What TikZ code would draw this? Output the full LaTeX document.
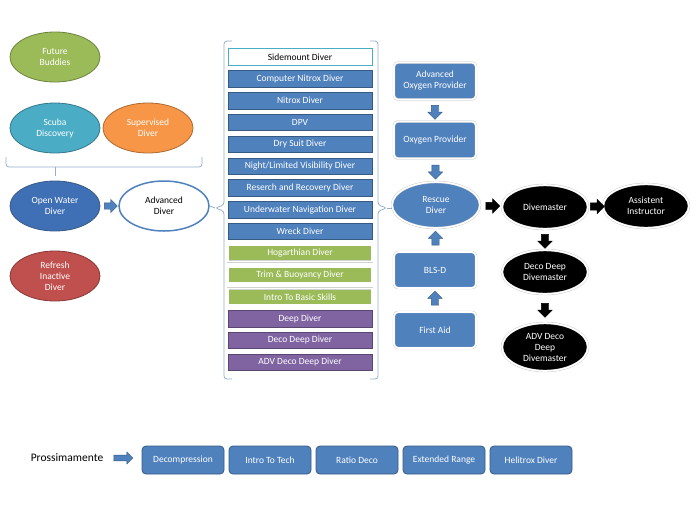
\documentclass[tikz,border=0pt]{standalone}
\usepackage{fontspec}
\setmainfont{Carlito}
\usetikzlibrary{shapes.geometric, shapes.arrows, positioning, calc}

\definecolor{diveblue}{HTML}{4F81BD}
\definecolor{deepblue}{HTML}{3F6FB4}
\definecolor{diveteal}{HTML}{4BACC6}
\definecolor{divegreen}{HTML}{9BBB59}
\definecolor{diveorange}{HTML}{F79646}
\definecolor{divered}{HTML}{C0504D}
\definecolor{divepurple}{HTML}{8064A2}
\definecolor{bracketgray}{HTML}{95AECF}

\begin{document}
\begin{tikzpicture}[
		x=1pt, y=-1pt,
		font=\fontsize{9.5}{11}\selectfont,
		oval/.style={ellipse, minimum width=90pt, minimum height=50pt, inner sep=0pt, thick, align=center, text=white},
		blackoval/.style={oval, minimum width=86pt, minimum height=44pt, fill=black, draw=gray!45, double=white, double distance=1.6pt, line width=0.4pt},
		course/.style={rectangle, minimum width=144pt, minimum height=16.5pt, inner sep=0pt, outer sep=0pt, fill=diveblue, draw=diveblue!70!black, text=white},
		greencourse/.style={course, fill=divegreen, draw=gray!35, double=white, double distance=1.6pt, line width=0.4pt},
		purplecourse/.style={course, fill=divepurple, draw=divepurple!70!black},
		firstaid/.style={rectangle, rounded corners=4pt, minimum width=82pt, minimum height=37pt, inner sep=0pt, align=center, fill=diveblue, draw=gray!45, double=white, double distance=1.6pt, line width=0.4pt, text=white},
		soon/.style={rectangle, rounded corners=4pt, minimum width=82pt, minimum height=28pt, inner sep=0pt, outer sep=0pt, fill=diveblue, draw=diveblue!70!black, thick, text=white},
		blockarrow/.style={single arrow, minimum width=14pt, minimum height=14pt, single arrow head extend=3.5pt, inner sep=3.5pt, fill=diveblue, draw=diveblue!70!black},
		blackarrow/.style={blockarrow, fill=black, draw=black},
		bracket/.style={draw=bracketgray, thick, rounded corners=3pt}
		]
		\path[use as bounding box] (0,0) rectangle (698,523);
		
		% Left: first steps
		\node[oval, fill=divegreen, draw=divegreen!70!black] (fb) at (55,57) {Future\\Buddies};
		\node[oval, fill=diveteal, draw=diveteal!70!black] (sd) at (55,128) {Scuba\\Discovery};
		\node[oval, fill=diveorange, draw=diveorange!70!black] (sv) at (148,128) {Supervised\\Diver};
		\draw[bracket] (6,157) -- (6,167) -- (202,167) -- (202,157);
		\draw[bracket] (55,167) -- (55,176);
		\node[oval, fill=deepblue, draw=diveblue!70!black] (ow) at (55,206) {Open Water\\Diver};
		\node[oval, fill=white, draw=diveblue, line width=1.5pt, text=black] (adv) at (164,206) {Advanced\\Diver};
		\node[blockarrow, minimum height=13pt, minimum width=12pt, inner sep=3pt] (a0) at ($(ow.east)!0.5!(adv.west)$) {};
		\node[oval, fill=divered, draw=divered!70!black] (rid) at (55,276) {Refresh\\Inactive\\Diver};
		
		% Middle: specialties
		\draw[bracket] (232,41) -- (224,41) -- (224,205) -- (215,208) -- (224,211) -- (224,379) -- (232,379);
		\draw[bracket] (370,41) -- (378,41) -- (378,205) -- (387,208) -- (378,211) -- (378,379) -- (370,379);
		\coordinate (lb) at (215,208);
		\coordinate (rb) at (387,208);
		\node[course, fill=white, draw=diveteal, thick, text=black] (c1) at (300,57) {Sidemount Diver};
		\node[course, below=5.3pt of c1] (c2) {Computer Nitrox Diver};
		\node[course, below=5.3pt of c2] (c3) {Nitrox Diver};
		\node[course, below=5.3pt of c3] (c4) {DPV};
		\node[course, below=5.3pt of c4] (c5) {Dry Suit Diver};
		\node[course, below=5.3pt of c5] (c6) {Night/Limited Visibility Diver};
		\node[course, below=5.3pt of c6] (c7) {Reserch and Recovery Diver};
		\node[course, below=5.3pt of c7] (c8) {Underwater Navigation Diver};
		\node[course, below=5.3pt of c8] (c9) {Wreck Diver};
		\node[greencourse, below=5.3pt of c9] (c10) {Hogarthian Diver};
		\node[greencourse, below=5.3pt of c10] (c11) {Trim \& Buoyancy Diver};
		\node[greencourse, below=5.3pt of c11] (c12) {Intro To Basic Skills};
		\node[purplecourse, below=5.3pt of c12] (c13) {Deep Diver};
		\node[purplecourse, below=5.3pt of c13] (c14) {Deco Deep Diver};
		\node[purplecourse, below=5.3pt of c14] (c15) {ADV Deco Deep Diver};
		
		% Right: rescue and professional
		\node[firstaid] (aop) at (435,81) {Advanced\\Oxygen Provider};
		\node[firstaid] (op) at (435,140) {Oxygen Provider};
		\node[oval, minimum width=88pt, minimum height=46pt, fill=diveblue, draw=gray!45, double=white, double distance=1.6pt, line width=0.4pt] (rd) at (436,205) {Rescue\\Diver};
		\node[firstaid, minimum height=36pt] (bls) at (435,270) {BLS-D};
		\node[firstaid, minimum height=36pt] (fa) at (435,330) {First Aid};
		\node[blockarrow, shape border rotate=270] (a1) at ($(aop.south)!0.5!(op.north)$) {};
		\node[blockarrow, shape border rotate=270] (a2) at ($(op.south)!0.5!(rd.north)$) {};
		\node[blockarrow, shape border rotate=90] (a3) at ($(bls.north)!0.5!(rd.south)$) {};
		\node[blockarrow, shape border rotate=90] (a4) at ($(fa.north)!0.5!(bls.south)$) {};
		
		\node[blackoval] (dm) at (545,207) {Divemaster};
		\node[blackoval] (ai) at (646,206) {Assistent\\Instructor};
		\node[blackoval] (ddd) at (545,272) {Deco Deep\\Divemaster};
		\node[blackoval, minimum height=48pt] (add) at (545,347) {ADV Deco\\Deep\\Divemaster};
		\node[blackarrow] (a5) at ($(rd.east)!0.5!(dm.west)$) {};
		\node[blackarrow] (a6) at ($(dm.east)!0.5!(ai.west)$) {};
		\node[blackarrow, shape border rotate=270] (a7) at ($(dm.south)!0.5!(ddd.north)$) {};
		\node[blackarrow, shape border rotate=270] (a8) at ($(ddd.south)!0.5!(add.north)$) {};
		
		% Links to the specialty block
		\draw[bracketgray, thick] (adv.east) -- (lb);
		\draw[bracketgray, thick] (rb) -- (rb -| rd.west);
		
		% Bottom: coming soon
		\node[font=\fontsize{11.5}{13}\selectfont] (next) at (67,458) {Prossimamente};
		\node[soon] (s1) at (183,460) {Decompression};
		\node[soon, right=5pt of s1] (s2) {Intro To Tech};
		\node[soon, right=5pt of s2] (s3) {Ratio Deco};
		\node[soon, right=5pt of s3] (s4) {Extended Range};
		\node[soon, right=5pt of s4] (s5) {Helitrox Diver};
		\node[blockarrow, minimum height=19pt, minimum width=12pt, inner sep=2.5pt, single arrow head extend=3pt] (a9) at (122,458) {};
		
	\end{tikzpicture}
\end{document}
